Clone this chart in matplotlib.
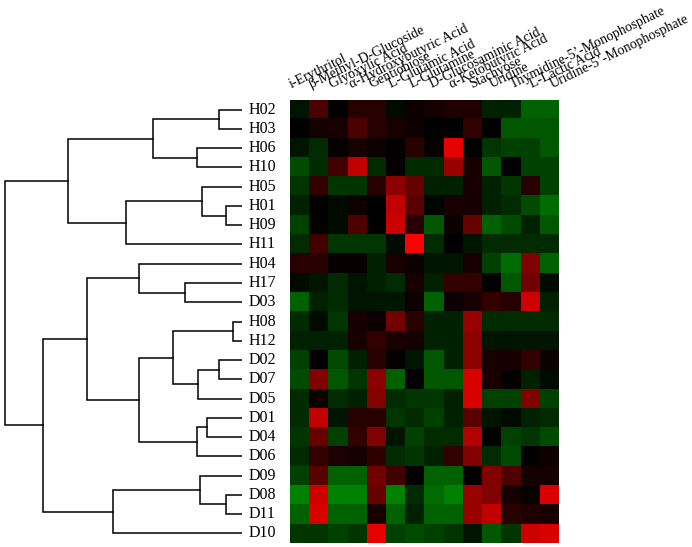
import numpy as np
import matplotlib
matplotlib.use("Agg")
import matplotlib.pyplot as plt
from matplotlib.colors import LinearSegmentedColormap

# =============================
# Data
# =============================
samples = ["H02", "H03", "H06", "H10", "H05", "H01", "H09", "H11",
           "H04", "H17", "D03", "H08", "H12", "D02", "D07", "D05",
           "D01", "D04", "D06", "D09", "D08", "D11", "D10"]

substrates = ["i-Erythritol", "β-Methyl-D-Glucoside", "Glyoxylic Acid",
              "α-Hydroxybutyric Acid", "Gentiobiose", "L-Glutamic Acid",
              "L-Glutamine", "D-Glucosaminic Acid", "α-Ketobutyric Acid",
              "Stachyose", "Uridine", "Thymidine-5’-Monophosphate",
              "L-Lactic Acid", "Uridine-5’-Monophosphate"]

# positive = red, negative = green
values = [
    [-0.10, 0.30, 0.00, 0.15, 0.15, -0.05, 0.05, 0.08, 0.12, 0.12, -0.15, -0.15, -0.45, -0.45],  # H02
    [0.00, 0.08, 0.10, 0.30, 0.15, 0.10, 0.05, 0.00, 0.00, 0.20, 0.00, -0.40, -0.40, -0.40],    # H03
    [-0.10, -0.20, 0.02, 0.10, 0.05, 0.00, 0.15, 0.03, 0.90, 0.00, -0.25, -0.30, -0.30, -0.40],  # H06
    [-0.35, -0.20, 0.25, 0.75, -0.20, 0.02, -0.20, -0.20, 0.60, 0.10, -0.40, 0.00, -0.30, -0.30],  # H10
    [-0.25, 0.20, -0.25, -0.25, 0.15, 0.55, 0.40, -0.15, -0.15, 0.10, -0.15, -0.25, 0.15, -0.30],  # H05
    [-0.15, 0.00, -0.05, 0.05, 0.00, 0.75, 0.35, -0.03, 0.10, 0.10, -0.15, -0.20, -0.35, -0.50],  # H01
    [-0.30, 0.00, -0.05, 0.30, 0.00, 0.80, 0.15, -0.40, 0.05, 0.40, -0.45, -0.35, -0.15, -0.40],  # H09
    [-0.20, 0.25, -0.25, -0.25, -0.25, -0.05, 1.00, -0.20, 0.00, -0.10, -0.20, -0.20, -0.20, -0.20],  # H11
    [0.15, 0.15, 0.03, 0.03, -0.15, 0.10, 0.05, -0.10, -0.10, 0.10, -0.30, -0.50, 0.50, -0.45],  # H04
    [-0.05, -0.10, -0.20, -0.10, -0.15, -0.20, 0.10, -0.15, 0.20, 0.20, 0.00, -0.40, 0.45, -0.05],  # H17
    [-0.45, -0.15, -0.20, -0.10, -0.10, -0.10, 0.05, -0.45, 0.05, 0.10, 0.20, 0.15, 0.80, -0.15],  # D03
    [-0.20, -0.05, -0.25, 0.10, 0.05, 0.45, 0.15, -0.15, -0.15, 0.60, -0.20, -0.20, -0.20, -0.20],  # H08
    [-0.15, -0.15, -0.15, 0.10, 0.20, 0.10, 0.08, -0.15, -0.15, 0.55, -0.10, -0.10, -0.10, -0.10],  # H12
    [-0.30, 0.00, -0.35, -0.15, 0.15, 0.02, -0.10, -0.40, -0.15, 0.55, 0.10, 0.10, 0.20, 0.05],  # D02
    [-0.35, 0.50, -0.40, -0.25, 0.55, -0.45, 0.00, -0.40, -0.40, 0.85, 0.10, 0.02, -0.15, -0.05],  # D07
    [-0.20, 0.05, -0.20, -0.15, 0.50, -0.20, -0.25, -0.25, -0.15, 0.85, -0.30, -0.30, 0.50, -0.30],  # D05
    [-0.20, 0.75, -0.10, 0.15, 0.15, -0.25, -0.20, -0.30, -0.15, 0.35, -0.10, -0.05, -0.15, -0.20],  # D01
    [-0.25, 0.40, -0.30, 0.20, 0.50, -0.10, -0.30, -0.20, -0.20, 0.70, 0.00, -0.30, -0.25, -0.35],  # D04
    [-0.20, 0.20, 0.12, 0.08, 0.18, -0.20, -0.25, -0.15, 0.20, 0.50, -0.20, -0.35, 0.02, 0.05],  # D06
    [-0.30, 0.35, -0.45, -0.45, 0.45, 0.25, 0.00, -0.45, -0.45, 0.00, 0.50, 0.30, 0.08, 0.08],  # D09
    [-0.60, 0.80, -0.60, -0.60, 0.40, -0.60, -0.20, -0.50, -0.60, 0.60, 0.50, 0.08, 0.03, 0.85],  # D08
    [-0.45, 0.85, -0.45, -0.45, 0.10, -0.45, -0.15, -0.45, -0.45, 0.60, 0.75, 0.15, 0.12, 0.10],  # D11
    [-0.25, -0.25, -0.30, -0.25, 0.90, -0.30, -0.35, -0.30, -0.25, -0.10, -0.40, -0.25, 0.80, 0.85],  # D10
]

# cluster merges: (child a, child b, distance); leaves are 0..22, new nodes 23..
merges = [
    (0, 1, 22.7), (2, 3, 45.3), (23, 24, 88.7), (5, 6, 16.3), (4, 26, 40.3),
    (27, 7, 116.0), (25, 28, 174.3), (9, 10, 56.7), (8, 30, 103.3),
    (11, 12, 8.7), (13, 14, 22.7), (33, 15, 43.7), (32, 34, 69.3),
    (16, 17, 35.3), (36, 18, 45.3), (35, 37, 103.3), (31, 38, 154.7),
    (20, 21, 16.0), (19, 40, 42.0), (41, 22, 128.7), (39, 42, 198.7),
    (29, 43, 237.0),
]

# =============================
# Layout (pixels of a 692x547 figure)
# =============================
W, H = 692, 547
hm_left, hm_right, hm_top, hm_bottom = 290, 559, 100, 543
leaf_x = 242

plt.rcParams['font.family'] = ['Liberation Serif', 'DejaVu Serif']

fig = plt.figure(figsize=(W / 100, H / 100), dpi=100)
ax = fig.add_axes([hm_left / W, 1 - hm_bottom / H,
                   (hm_right - hm_left) / W, (hm_bottom - hm_top) / H])
dax = fig.add_axes([0, 1 - hm_bottom / H, leaf_x / W, (hm_bottom - hm_top) / H])

cmap = LinearSegmentedColormap.from_list("rg", [(0, 0.85, 0), (0, 0, 0), (1, 0, 0)])
ax.imshow(np.array(values), cmap=cmap, vmin=-1, vmax=1,
          aspect='auto', interpolation='nearest')
ax.set_axis_off()

n_rows = len(samples)
col_px = (hm_right - hm_left) / len(substrates)
row_px = (hm_bottom - hm_top) / n_rows

# row labels
for i, name in enumerate(samples):
    ax.text((249 - hm_left) / col_px - 0.5, i, name, ha='left', va='center',
            fontsize=11.5, clip_on=False)

# column labels, rotated
for j, name in enumerate(substrates):
    x = (291 - hm_left + j * 20.1) / col_px - 0.5
    y = -0.5 - 12 / row_px
    ax.text(x, y, name, rotation=26, rotation_mode='anchor',
            ha='left', va='baseline', fontsize=10, clip_on=False)

# =============================
# Dendrogram
# =============================
pos = {i: (float(i), 0.0) for i in range(n_rows)}
for k, (a, b, h) in enumerate(merges):
    ya, ha_ = pos[a]
    yb, hb = pos[b]
    dax.plot([ha_, h, h, hb], [ya, ya, yb, yb], color='black', lw=1.1,
             solid_joinstyle='miter')
    pos[n_rows + k] = ((ya + yb) / 2, h)

dax.set_xlim(leaf_x, 0)
dax.set_ylim(n_rows - 0.5, -0.5)
dax.set_axis_off()

fig.savefig("out.png", dpi=100)
